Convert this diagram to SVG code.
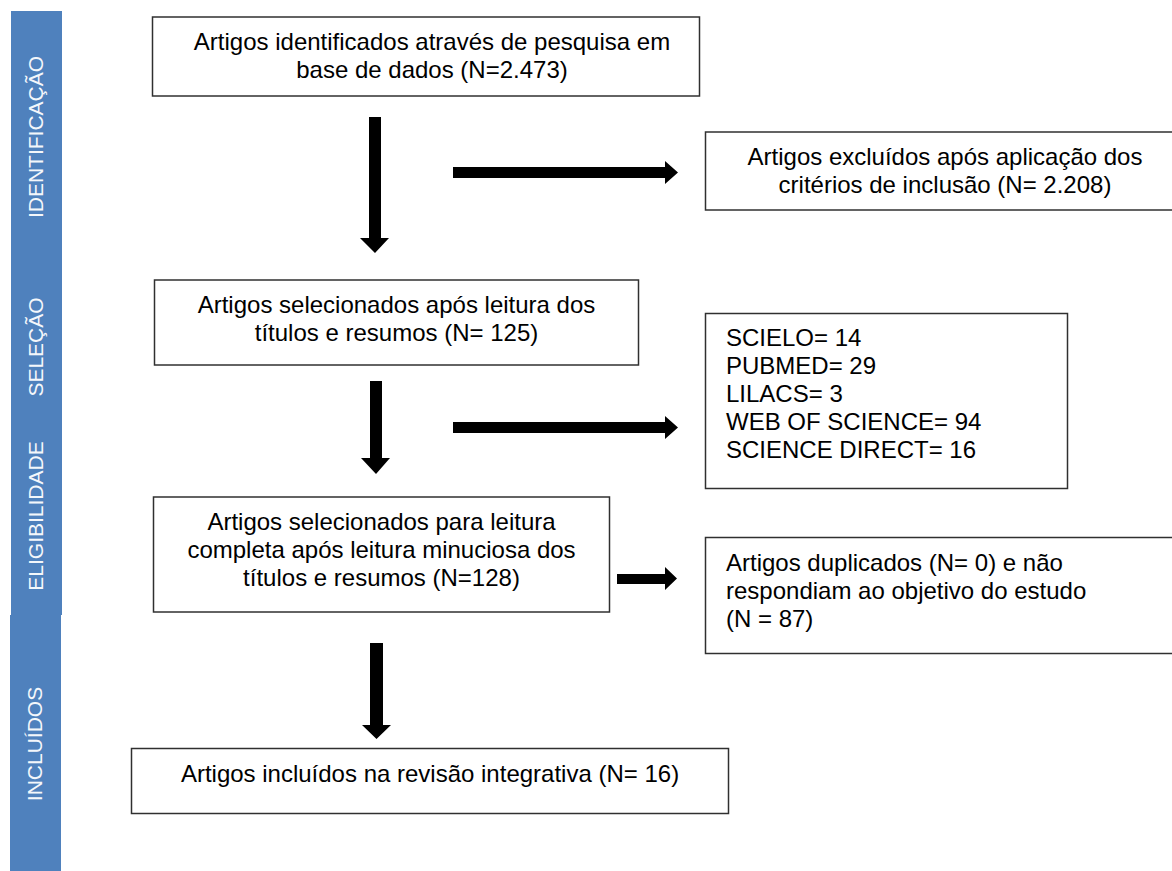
<svg xmlns="http://www.w3.org/2000/svg" width="1172" height="871" viewBox="0 0 1172 871">
<style>
.bar{fill:#4f81bd}
.bl{font-family:"Liberation Sans",Arial,sans-serif;font-size:21px;fill:#f4f7fb}
.box{fill:#ffffff;stroke:#303030;stroke-width:1.5}
.t{font-family:"Liberation Sans",Arial,sans-serif;font-size:24px;fill:#000000}
.c{text-anchor:middle}
.arr{fill:#000000;stroke:none}
</style>
<rect width="1172" height="871" fill="#ffffff"/>
<g id="stages">
<g id="stage-identificacao">
<rect class="bar" x="11" y="11" width="51" height="246"/>
<text class="bl c" transform="translate(43,137) rotate(-90)">IDENTIFICAÇÃO</text>
</g>
<g id="stage-selecao">
<rect class="bar" x="11" y="257" width="51" height="180"/>
<text class="bl c" transform="translate(43,347) rotate(-90)">SELEÇÃO</text>
</g>
<g id="stage-elegibilidade">
<rect class="bar" x="11" y="437" width="51" height="178"/>
<text class="bl c" transform="translate(43,516) rotate(-90)">ELIGIBILIDADE</text>
</g>
<g id="stage-incluidos">
<rect class="bar" x="10" y="615" width="51" height="256"/>
<text class="bl c" transform="translate(42,744) rotate(-90)">INCLUÍDOS</text>
</g>
</g>
<g id="connectors">
<path class="arr" d="M369,117 H381 V238 H389 L375,253 L360,238 H369 Z"/>
<path class="arr" d="M453,167 H665 V161 L678,172.5 L665,184 V178 H453 Z"/>
<path class="arr" d="M370,381 H382 V458 H390 L376,474 L361,458 H370 Z"/>
<path class="arr" d="M453,422 H665 V416 L678,427.5 L665,439 V433 H453 Z"/>
<path class="arr" d="M617,574 H665 V567 L677,578.5 L665,590 V584 H617 Z"/>
<path class="arr" d="M370,643 H383 V725 H391 L376.5,739 L362,725 H370 Z"/>
</g>
<g id="node-identificados">
<rect class="box" x="152.5" y="17" width="547" height="79"/>
<text class="t c" x="432" y="50">Artigos identificados através de pesquisa em</text>
<text class="t c" x="432" y="78">base de dados (N=2.473)</text>
</g>
<g id="node-excluidos">
<rect class="box" x="705.5" y="132" width="480" height="78"/>
<text class="t c" x="945" y="165">Artigos excluídos após aplicação dos</text>
<text class="t c" x="945" y="193">critérios de inclusão (N= 2.208)</text>
</g>
<g id="node-selecionados">
<rect class="box" x="154.5" y="280" width="484" height="85"/>
<text class="t c" x="396.5" y="313">Artigos selecionados após leitura dos</text>
<text class="t c" x="396.5" y="341">títulos e resumos (N= 125)</text>
</g>
<g id="node-bases">
<rect class="box" x="705.5" y="313.5" width="362" height="175"/>
<text class="t" x="726" y="346">SCIELO= 14</text>
<text class="t" x="726" y="374">PUBMED= 29</text>
<text class="t" x="726" y="402">LILACS= 3</text>
<text class="t" x="726" y="430">WEB OF SCIENCE= 94</text>
<text class="t" x="726" y="458">SCIENCE DIRECT= 16</text>
</g>
<g id="node-leitura-completa">
<rect class="box" x="153.5" y="497" width="456" height="115"/>
<text class="t c" x="381.5" y="530">Artigos selecionados para leitura</text>
<text class="t c" x="381.5" y="558">completa após leitura minuciosa dos</text>
<text class="t c" x="381.5" y="586">títulos e resumos (N=128)</text>
</g>
<g id="node-duplicados">
<rect class="box" x="705.5" y="537.5" width="480" height="116"/>
<text class="t" x="726" y="571">Artigos duplicados (N= 0) e não</text>
<text class="t" x="726" y="599">respondiam ao objetivo do estudo</text>
<text class="t" x="726" y="627">(N = 87)</text>
</g>
<g id="node-incluidos">
<rect class="box" x="131.5" y="748.5" width="597" height="65"/>
<text class="t c" x="430" y="782">Artigos incluídos na revisão integrativa (N= 16)</text>
</g>
</svg>
